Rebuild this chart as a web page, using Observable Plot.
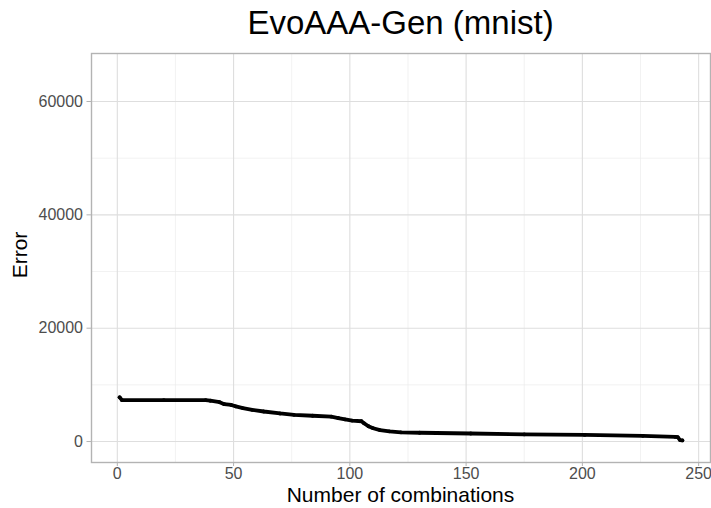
<!DOCTYPE html>
<html>
<head>
<meta charset="utf-8">
<script src="https://cdn.jsdelivr.net/npm/d3@7"></script>
<script src="https://cdn.jsdelivr.net/npm/@observablehq/plot@0.6"></script>
<style>
  html, body { margin: 0; padding: 0; background: #fff; }
  #wrap { position: relative; width: 711px; height: 508px; font-family: "Liberation Sans", Arial, Helvetica, sans-serif; }
  #title { position: absolute; left: 91px; width: 619px; top: 6px; text-align: center; font-size: 33px; color: #000; line-height: 1; white-space: nowrap; }
  #xtitle { position: absolute; left: 91px; width: 619px; top: 484px; text-align: center; font-size: 21px; color: #000; line-height: 1; white-space: nowrap; }
  #ytitle { position: absolute; left: 19px; top: 255px; transform: translate(-50%, -50%) rotate(-90deg); font-size: 21px; color: #000; line-height: 1; white-space: nowrap; }
  #chart { position: absolute; left: 0; top: 0; }
</style>
</head>
<body>
<div id="wrap">
  <div id="chart"></div>
  <div id="title">EvoAAA-Gen (mnist)</div>
  <div id="xtitle">Number of combinations</div>
  <div id="ytitle">Error</div>
</div>
<script>
// Data
const combinations = [1, 2, 20, 38, 40, 44, 46, 49, 51, 54, 58, 63, 70, 76, 84, 92, 95, 98, 101, 105, 106, 108, 110, 113, 117, 122, 130, 152, 175, 201, 226, 240, 241, 242, 243];
const errors =       [7800, 7300, 7300, 7300, 7200, 6950, 6600, 6450, 6200, 5900, 5600, 5300, 4950, 4720, 4550, 4380, 4150, 3900, 3700, 3580, 3250, 2700, 2350, 2000, 1800, 1620, 1550, 1420, 1260, 1160, 1000, 820, 780, 250, 200];
const xTicks = [0, 50, 100, 150, 200, 250];
const xMinor = [25, 75, 125, 175, 225];
const yTicks = [0, 20000, 40000, 60000];
const yMinor = [10000, 30000, 50000];

const data = combinations.map((c, i) => ({x: c, y: errors[i]}));

const chart = Plot.plot({
  width: 711,
  height: 508,
  marginTop: 53,
  marginBottom: 46,
  marginLeft: 91,
  marginRight: 1,
  style: {fontFamily: "'Liberation Sans', Arial, Helvetica, sans-serif", background: "#fff"},
  x: {domain: [-11.1, 255.1], label: null},
  y: {domain: [-3700, 68470], label: null},
  marks: [
    Plot.gridX(xMinor, {stroke: "#EDEDED", strokeOpacity: 1, strokeWidth: 0.7}),
    Plot.gridY(yMinor, {stroke: "#EDEDED", strokeOpacity: 1, strokeWidth: 0.7}),
    Plot.gridX(xTicks, {stroke: "#DEDEDE", strokeOpacity: 1, strokeWidth: 1.1}),
    Plot.gridY(yTicks, {stroke: "#DEDEDE", strokeOpacity: 1, strokeWidth: 1.1}),
    Plot.frame({stroke: "#B3B3B3", strokeWidth: 1.4}),
    Plot.axisX(xTicks, {tickSize: 4, tickPadding: 1, stroke: "#B3B3B3", fill: "#4D4D4D", fontSize: 16, label: null}),
    Plot.axisY(yTicks, {tickSize: 4.5, tickPadding: 4, stroke: "#B3B3B3", fill: "#4D4D4D", fontSize: 16, label: null, tickFormat: d => String(d)}),
    Plot.line(data, {x: "x", y: "y", stroke: "#000", strokeWidth: 3.8, strokeLinejoin: "round", strokeLinecap: "round"}),
    Plot.dot(data, {x: "x", y: "y", r: 1.9, fill: "#000"})
  ]
});
document.getElementById("chart").appendChild(chart);
</script>
</body>
</html>
